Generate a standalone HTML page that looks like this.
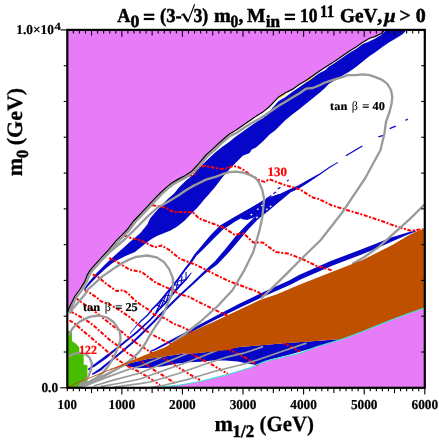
<!DOCTYPE html>
<html><head><meta charset="utf-8"><style>
html,body{margin:0;padding:0;background:#fff;}
svg{display:block;will-change:transform;}
text{text-rendering:geometricPrecision;}
</style></head><body>
<svg width="439" height="443" viewBox="0 0 439 443">
<rect x="0" y="0" width="439" height="443" fill="#fff"/>
<polygon points="67.3,29.9 385.1,29.9 385.1,29.9 381.7,33.2 374.8,36.6 369.6,38.2 362.8,42.3 356.0,47.1 349.2,51.2 342.3,56.0 335.5,60.8 328.7,64.9 319.6,70.9 312.8,75.7 306.0,80.5 299.2,84.6 292.3,89.4 285.5,92.8 278.7,96.9 269.6,106.5 262.8,112.1 256.0,116.2 249.2,121.0 242.3,125.7 235.5,130.5 228.7,134.6 219.6,142.5 212.8,148.9 206.0,155.0 199.2,163.2 192.3,170.7 185.5,175.5 178.7,178.9 171.8,183.0 167.8,186.1 161.0,192.3 154.2,199.1 147.3,206.6 133.7,221.0 126.9,230.0 122.8,234.1 116.0,240.9 109.2,249.1 102.3,256.6 95.5,264.2 90.0,270.3 87.3,275.1 84.6,281.9 79.5,290.0 75.0,296.0 70.9,304.2 68.5,309.6 67.5,312.0" fill="#E87CF8"/>
<polygon points="158.0,387.8 166.0,386.6 180.0,385.0 200.0,381.5 225.2,375.2 250.3,367.7 265.0,361.4 290.0,355.5 300.0,353.3 315.8,347.0 331.7,342.2 342.7,339.1 363.3,331.2 379.2,324.8 395.0,318.5 410.8,312.8 424.5,308.0 424.8,387.8 158.0,387.8" fill="#E87CF8"/>
<polygon points="83.6,289.8 88.7,282.3 95.0,274.7 102.3,267.3 106.4,263.3 112.0,258.0 117.8,252.8 123.5,247.7 129.2,242.6 135.0,237.8 140.6,232.8 147.3,224.5 150.0,218.5 154.2,213.5 161.0,205.8 167.8,199.0 174.6,193.0 178.7,187.8 185.5,181.0 192.3,175.5 195.0,172.8 201.8,165.3 208.7,158.4 215.5,152.3 222.3,146.8 229.2,142.0 235.5,136.7 242.3,131.9 249.2,127.1 256.0,122.3 262.8,118.2 269.6,112.8 271.8,108.5 278.7,101.0 285.5,96.9 292.3,92.1 299.2,87.3 306.0,82.5 312.8,77.8 319.6,73.0 325.0,70.2 328.7,66.7 335.5,62.6 342.3,57.8 349.2,53.0 356.0,48.9 362.8,44.1 368.0,42.1 374.8,38.7 381.7,34.6 386.4,29.9 406.9,29.9 402.2,34.6 395.3,38.7 388.5,42.8 381.7,47.5 375.0,52.6 369.6,56.0 362.8,61.5 356.0,66.9 349.2,71.7 342.3,75.8 335.5,79.9 328.7,84.0 325.0,88.0 319.6,92.8 312.8,98.3 306.0,103.7 299.2,109.2 292.3,114.6 285.5,120.0 275.0,130.5 269.6,134.6 262.8,141.4 256.0,147.6 251.7,149.6 249.6,153.0 242.8,155.7 236.0,162.5 229.2,169.4 222.3,177.6 215.5,186.4 208.7,194.6 204.6,199.1 197.8,207.3 191.0,214.1 184.2,221.0 177.3,226.4 170.5,230.5 163.7,233.3 156.8,236.0 150.0,240.1 143.0,245.5 135.0,251.9 125.5,256.0 118.7,259.4 111.9,263.5 105.0,269.2 98.2,275.6 91.4,282.6 85.2,289.6" fill="#0606C8"/>
<polygon points="337.8,162.1 329.7,166.6 319.6,173.5 314.5,176.2 307.2,180.2 298.1,185.4 288.9,189.5 279.7,193.9 274.9,195.8 266.9,199.7 258.7,203.5 252.1,207.1 242.7,212.3 233.1,217.7 220.0,225.5 210.2,235.5 201.7,245.8 194.5,254.2 189.2,262.6 183.8,269.4 177.0,279.0 171.6,285.8 164.8,294.0 158.0,302.2 151.2,309.1 147.2,314.5 140.6,320.6 134.7,327.2 129.8,333.5 130.2,333.9 135.3,327.8 141.4,321.4 148.2,315.5 152.4,310.1 159.4,303.4 166.2,295.2 173.0,287.0 178.6,280.2 185.4,270.6 191.0,263.8 196.5,255.8 204.3,248.2 213.6,238.7 223.0,229.5 235.3,221.5 244.9,216.1 254.3,210.9 260.7,207.5 268.7,203.3 276.5,199.0 281.3,197.1 290.3,192.5 299.5,188.2 308.6,182.4 315.5,177.8 320.4,174.5 330.3,167.4 338.2,162.7" fill="#0606C8"/>
<polygon points="289.6,191.4 281.3,197.0 275.1,201.3 268.2,206.7 255.3,216.6 245.3,225.9 235.4,236.4 226.0,248.2 214.7,261.6 204.2,271.0 198.8,276.2 192.1,282.8 185.4,289.1 178.5,295.3 171.6,302.1 164.8,308.9 159.3,314.3 154.3,319.8 139.8,334.3 131.7,342.0 122.6,349.7 113.5,357.4 104.3,364.7 99.8,368.6 91.9,373.7 92.7,375.1 101.2,370.6 105.7,366.3 114.7,359.0 123.8,351.3 132.9,343.4 141.2,335.7 155.7,321.2 160.7,315.7 166.2,310.3 173.0,303.5 179.9,296.7 186.6,290.5 193.5,284.2 200.4,277.8 205.8,273.0 217.3,264.4 229.6,251.4 239.4,240.0 248.7,229.1 257.7,219.4 270.4,209.3 276.9,203.7 282.7,199.0 290.4,192.6" fill="#0606C8"/>
<polygon points="191.1,272.6 185.4,279.1 178.5,285.8 171.6,294.0 164.8,302.2 158.0,309.0 153.9,314.4 149.4,319.4 136.8,331.1 131.7,335.2 122.6,342.5 113.5,349.7 107.1,354.4 101.2,359.0 94.4,364.1 87.8,368.9 88.6,370.3 95.6,365.9 102.8,361.0 108.9,356.6 114.7,351.3 123.8,343.9 132.9,336.6 138.0,332.5 150.6,320.6 155.3,315.6 159.4,310.2 166.2,303.4 173.0,295.2 179.9,287.0 186.6,280.1 191.7,273.0" fill="#0606C8"/>
<line x1="186" y1="272" x2="186" y2="279.6" stroke="#0606C8" stroke-width="1.1"/>
<line x1="182" y1="276" x2="181" y2="285" stroke="#0606C8" stroke-width="1.1"/>
<line x1="178" y1="281" x2="176" y2="290" stroke="#0606C8" stroke-width="1.1"/>
<line x1="174" y1="285" x2="171" y2="296" stroke="#0606C8" stroke-width="1.1"/>
<line x1="170" y1="290" x2="166" y2="302" stroke="#0606C8" stroke-width="1.1"/>
<line x1="166" y1="295" x2="161" y2="307" stroke="#0606C8" stroke-width="1.1"/>
<line x1="162" y1="300" x2="156" y2="312" stroke="#0606C8" stroke-width="1.1"/>
<line x1="186" y1="279.6" x2="178" y2="281" stroke="#0606C8" stroke-width="1.1"/>
<line x1="181" y1="285" x2="174" y2="285" stroke="#0606C8" stroke-width="1.1"/>
<line x1="176" y1="290" x2="170" y2="290" stroke="#0606C8" stroke-width="1.1"/>
<line x1="171" y1="296" x2="166" y2="295" stroke="#0606C8" stroke-width="1.1"/>
<line x1="166" y1="302" x2="162" y2="300" stroke="#0606C8" stroke-width="1.1"/>
<line x1="161" y1="307" x2="157" y2="305" stroke="#0606C8" stroke-width="1.1"/>
<polygon points="244.0,212.5 253.2,206.4 262.0,201.0 270.0,197.0 279.0,194.0 284.0,195.0 278.0,201.0 270.0,207.0 262.0,212.5 254.0,217.5 247.0,220.0 241.0,219.0" fill="#0606C8"/>
<rect x="250.5" y="213.9" width="1.8" height="1.4" fill="#fff" transform="rotate(-30 251.4 214.6)"/>
<rect x="256.9" y="208.5" width="1.8" height="1.4" fill="#fff" transform="rotate(-30 257.8 209.2)"/>
<rect x="266.0" y="208.5" width="1.8" height="1.4" fill="#fff" transform="rotate(-30 266.9 209.2)"/>
<rect x="269.6" y="205.7" width="1.8" height="1.4" fill="#fff" transform="rotate(-30 270.5 206.4)"/>
<rect x="256.0" y="216.7" width="1.8" height="1.4" fill="#fff" transform="rotate(-30 256.9 217.4)"/>
<rect x="261.1" y="204.8" width="1.8" height="1.4" fill="#fff" transform="rotate(-30 262 205.5)"/>
<line x1="266" y1="199" x2="271.4" y2="195.5" stroke="#0606C8" stroke-width="1.2"/>
<line x1="273.3" y1="193.7" x2="276" y2="191.9" stroke="#0606C8" stroke-width="1.2"/>
<line x1="277.8" y1="189.1" x2="280.5" y2="187.3" stroke="#0606C8" stroke-width="1.2"/>
<line x1="287" y1="181" x2="288.7" y2="180" stroke="#0606C8" stroke-width="1.2"/>
<line x1="345.9" y1="155.7" x2="362.3" y2="146" stroke="#0606C8" stroke-width="1.3"/>
<line x1="378.4" y1="136.9" x2="383.3" y2="135.4" stroke="#0606C8" stroke-width="1.3"/>
<line x1="389.6" y1="128.7" x2="395.8" y2="126.2" stroke="#0606C8" stroke-width="1.3"/>
<line x1="405.5" y1="120.3" x2="407.7" y2="119.2" stroke="#0606C8" stroke-width="1.3"/>
<polygon points="150.3,352.1 155.9,349.9 172.5,341.6 183.8,336.2 202.1,326.5 215.7,319.6 240.8,307.2 265.9,295.6 290.9,284.6 301.0,279.3 332.7,265.5 360.9,254.7 376.9,248.3 392.6,241.2 408.1,234.4 415.9,231.5 415.7,230.5 407.5,232.6 391.2,237.4 375.1,243.9 359.1,250.3 330.7,260.9 299.0,275.1 289.1,280.6 264.1,291.8 239.2,303.8 214.3,316.8 200.7,323.9 182.6,333.8 171.5,339.6 155.1,348.5 149.7,350.9" fill="#0606C8"/>
<polygon points="124.0,365.5 128.2,363.8 146.4,359.2 164.6,356.5 182.9,353.7 200.0,352.9 240.0,347.1 290.0,342.8 319.0,340.7 342.7,339.1 331.7,342.2 315.8,347.0 300.0,351.7 290.0,354.5 270.0,359.5 256.0,365.0 250.3,364.0 237.7,361.5 225.2,360.5 212.7,360.5 200.0,361.8 189.3,362.3 175.6,363.7 162.0,366.4 148.3,367.8 137.3,368.3" fill="#0606C8"/>
<polygon points="67.3,331.0 71.9,331.0 71.9,341.0 75.6,343.5 79.3,347.2 79.3,353.5 83.7,354.2 83.7,364.5 87.4,365.3 87.4,382.5 82.0,387.8 67.3,387.8" fill="#48BC00"/>
<polyline points="188.0,176.0 192.0,175.0 194.4,174.2 198.0,167.0 205.0,166.0 213.0,167.5 222.0,169.0 228.0,168.0 233.0,166.0 238.0,167.0 243.0,169.5 252.0,176.0 259.7,180.3 264.5,181.9 269.3,179.3 285.2,185.1 300.0,189.5 312.7,197.5 319.0,199.1 331.7,205.4 347.5,210.2 363.3,214.9 372.8,218.1 382.3,221.2 395.0,226.0 410.8,230.7 423.5,229.2" stroke="#FF0000" stroke-width="2" fill="none" stroke-dasharray="4 1.6 2 1.6" stroke-linejoin="round"/>
<polyline points="152.1,205.3 156.9,206.0 161.0,206.6 166.4,208.0 170.5,210.7 174.6,212.1 180.0,212.1 192.8,212.2 199.1,218.6 211.9,223.3 224.6,228.1 234.2,234.5 243.8,233.5 253.3,242.5 262.9,242.5 275.7,252.0 288.4,253.6 304.4,260.0 315.8,265.6 331.7,270.3" stroke="#FF0000" stroke-width="2" fill="none" stroke-dasharray="4 1.6 2 1.6" stroke-linejoin="round"/>
<polyline points="124.1,235.3 131.0,238.0 139.2,240.0 147.4,243.6 154.6,247.3 161.9,245.5 169.2,250.0 180.0,258.8 195.9,264.8 211.9,272.8 227.8,280.7 240.0,285.2 250.0,289.0 257.5,291.5 263.8,296.5" stroke="#FF0000" stroke-width="2" fill="none" stroke-dasharray="4 1.6 2 1.6" stroke-linejoin="round"/>
<polyline points="109.2,258.0 116.0,261.4 122.8,265.5 129.6,269.6 136.4,271.0 141.9,271.9 147.4,276.4 154.6,281.9 163.8,286.4 172.9,290.1 180.0,294.6 187.6,296.2 200.0,302.6 215.0,310.0 228.0,316.0 250.0,327.0 270.0,337.0 287.5,345.0 300.0,351.5" stroke="#FF0000" stroke-width="2" fill="none" stroke-dasharray="4 1.6 2 1.6" stroke-linejoin="round"/>
<polyline points="92.8,274.4 98.2,277.1 107.3,284.6 116.4,291.0 123.7,290.1 129.1,294.6 134.6,300.1 141.9,305.6 149.2,310.1 154.6,314.7 164.6,318.2 173.8,323.7 182.9,327.3 190.0,331.0 210.0,341.0 230.0,350.0 245.0,357.5 258.0,365.5" stroke="#FF0000" stroke-width="2" fill="none" stroke-dasharray="4 1.6 2 1.6" stroke-linejoin="round"/>
<polyline points="84.6,289.8 91.4,293.9 98.3,298.7 101.0,301.4 110.0,304.5 119.1,310.0 128.2,316.0 137.3,323.7 146.4,331.0 155.5,336.4 164.6,341.0 172.0,344.6 185.0,351.0 200.0,358.5 212.7,365.0 227.7,373.8" stroke="#FF0000" stroke-width="2" fill="none" stroke-dasharray="4 1.6 2 1.6" stroke-linejoin="round"/>
<polyline points="75.7,297.7 82.5,303.2 89.3,307.3 95.5,312.0 101.6,316.9 108.4,322.3 115.3,327.8 122.0,331.9 127.8,336.8 137.4,343.7 146.4,349.5 151.9,353.0 164.6,358.8 173.8,364.7 182.9,370.1 190.0,374.7 200.0,380.0" stroke="#FF0000" stroke-width="2" fill="none" stroke-dasharray="4 1.6 2 1.6" stroke-linejoin="round"/>
<polyline points="70.2,311.4 77.0,314.8 83.9,318.9 89.3,322.3 96.2,327.8 103.0,333.9 109.8,340.1 116.6,344.9 122.0,348.3 127.8,353.2 137.4,358.7 146.4,364.5 155.5,371.0 164.6,376.5 176.0,384.0" stroke="#FF0000" stroke-width="2" fill="none" stroke-dasharray="4 1.6 2 1.6" stroke-linejoin="round"/>
<polyline points="69.5,320.3 75.7,324.4 82.5,330.5 89.3,336.0 96.2,342.1 103.2,347.8 111.4,355.3 118.3,360.0 126.4,365.5 134.6,369.6 140.0,372.3 150.0,378.5 160.0,385.0" stroke="#FF0000" stroke-width="2" fill="none" stroke-dasharray="4 1.6 2 1.6" stroke-linejoin="round"/>
<polyline points="68.1,356.9 73.3,353.9 79.3,352.9 85.2,353.9 89.6,357.6 91.9,363.5 91.1,369.4 88.9,375.4 85.2,380.6 79.3,385.0" stroke="#9A9A9A" stroke-width="2.3" fill="none" stroke-linejoin="round"/>
<polyline points="68.0,336.0 68.8,334.6 72.9,327.8 79.8,321.6 89.3,316.9 98.9,315.5 107.1,317.5 113.9,322.3 119.4,330.5 120.5,336.8 120.3,341.0 118.9,345.0 115.5,353.2 112.8,358.7 108.7,365.5 103.2,372.3 96.4,377.8 88.2,382.6 78.0,386.8" stroke="#9A9A9A" stroke-width="2.3" fill="none" stroke-linejoin="round"/>
<polyline points="69.5,313.5 72.5,309.0 77.8,302.8 84.5,295.0 87.3,290.0 95.5,282.6 102.3,276.4 109.2,271.7 116.0,266.9 122.8,262.8 129.6,259.4 136.4,256.8 147.4,255.5 156.5,257.3 163.8,261.9 169.2,269.1 172.9,278.3 172.9,287.4 171.0,296.5 168.3,302.0 164.6,310.9 160.0,320.0 155.5,326.4 150.0,335.0 145.0,344.0 139.6,351.4 132.3,358.7 123.2,365.1 114.1,370.5 107.7,374.2 96.0,380.5 84.0,386.0" stroke="#9A9A9A" stroke-width="2.3" fill="none" stroke-linejoin="round"/>
<polyline points="104.0,258.0 110.8,251.0 117.5,245.5 124.0,240.0 133.7,230.5 147.3,216.9 156.9,208.0 167.8,201.9 178.7,195.3 185.5,190.5 192.3,186.4 199.2,183.0 206.0,179.6 215.5,176.9 222.3,174.2 229.2,172.1 236.0,171.7 242.8,172.5 249.6,174.8 255.0,177.6 258.7,181.8 262.3,190.0 264.1,199.1 263.2,208.3 262.3,217.4 259.6,230.0 253.3,252.0 243.8,271.2 232.6,290.0 217.7,306.0 200.0,322.0 182.9,335.5 172.0,343.0" stroke="#9A9A9A" stroke-width="2.3" fill="none" stroke-linejoin="round"/>
<polyline points="69.3,312.7 70.2,310.4 72.6,305.0 76.6,297.0 81.1,291.1 86.3,282.8 89.0,275.9 91.5,271.4 96.9,265.5 103.7,257.9 110.6,250.3 117.4,242.2 124.1,235.4 128.4,231.2 135.1,222.2 148.7,207.9 155.6,200.4 162.3,193.7 169.0,187.5 172.8,184.6 179.6,180.6 186.5,177.1 193.6,172.1 200.6,164.4 207.4,156.3 214.1,150.3 220.9,143.9 229.8,136.1 236.5,133.0 243.0,128.5 250.0,124.0 258.0,119.5 265.0,115.3 271.8,110.5 278.7,105.8 285.5,101.7 292.3,97.6 299.2,93.5 306.0,88.7 312.8,88.0 319.6,85.3 325.0,82.5 328.7,81.3 335.5,79.2 342.3,77.2 347.8,75.1 356.0,75.1 362.8,74.4 369.6,75.1 374.8,76.9 381.7,79.6 387.1,83.7 391.0,90.0 392.3,97.0 391.5,104.0 389.5,112.0 386.0,122.0 384.3,134.0 380.5,150.0 365.0,178.5 342.8,211.7 320.5,240.2 301.0,259.2 286.0,274.4 273.0,287.1 261.0,298.5" stroke="#9A9A9A" stroke-width="2.3" fill="none" stroke-linejoin="round"/>
<polyline points="424.5,204.5 410.8,218.1 395.0,232.3 379.2,246.6 363.3,257.7 352.2,264.0" stroke="#9A9A9A" stroke-width="2.3" fill="none" stroke-linejoin="round"/>
<polyline points="84.0,384.0 100.0,377.0 115.0,370.0 128.0,363.5" stroke="#9A9A9A" stroke-width="1.7" fill="none" stroke-linejoin="round"/>
<polyline points="86.8,385.3 107.3,377.1 127.8,369.6 140.0,366.3 155.0,360.0 162.0,357.0" stroke="#9A9A9A" stroke-width="1.7" fill="none" stroke-linejoin="round"/>
<polyline points="93.7,386.0 114.2,379.9 134.6,374.5 140.0,373.0 165.0,362.6 190.0,352.5 193.0,351.3" stroke="#9A9A9A" stroke-width="1.7" fill="none" stroke-linejoin="round"/>
<polyline points="100.5,386.7 121.0,383.0 140.0,379.0 165.0,370.0 190.0,361.3 215.0,351.3 218.0,350.0" stroke="#9A9A9A" stroke-width="1.7" fill="none" stroke-linejoin="round"/>
<polyline points="114.2,387.0 140.0,383.6 150.0,382.0 177.6,373.8 202.6,365.0 227.7,356.8 243.7,353.2 257.3,348.6 263.0,346.6" stroke="#9A9A9A" stroke-width="1.7" fill="none" stroke-linejoin="round"/>
<polyline points="150.0,387.5 165.0,385.0 190.0,378.8 215.0,371.3 240.2,365.0 257.3,360.0 284.6,350.5 306.5,343.1" stroke="#9A9A9A" stroke-width="1.7" fill="none" stroke-linejoin="round"/>
<polygon points="110.0,369.2 128.2,361.9 146.4,354.6 164.6,347.4 183.2,336.4 192.3,331.8 201.4,327.3 212.7,322.2 237.7,310.6 260.0,299.9 277.6,294.0 300.0,284.6 331.7,271.9 352.2,264.0 363.3,259.7 368.0,257.3 376.0,253.3 383.9,249.3 391.9,245.3 399.9,240.5 407.8,235.7 415.8,231.7 425.0,228.6 424.5,308.0 410.8,312.8 395.0,318.5 379.2,324.8 363.3,331.2 342.7,339.1 319.0,340.7 300.0,342.2 290.0,342.8 265.0,345.1 240.0,347.1 225.2,350.2 200.0,352.9 182.9,353.7 164.6,356.5 146.4,359.2 128.2,363.8 110.0,370.2" fill="#BE5000"/>
<line x1="67.3" y1="387" x2="112" y2="368.8" stroke="#BE5000" stroke-width="0.9"/>
<polyline points="279.5,97.9 286.1,93.9" stroke="#F4F000" stroke-width="1.1" fill="none"/>
<polyline points="306.7,81.6 313.5,76.8" stroke="#F4F000" stroke-width="1.1" fill="none"/>
<polyline points="67.5,312.0 68.5,309.6 70.9,304.2 75.0,296.0 79.5,290.0 84.6,281.9 87.3,275.1 90.0,270.3 95.5,264.2 102.3,256.6 109.2,249.1 116.0,240.9 122.8,234.1 126.9,230.0 133.7,221.0 147.3,206.6 154.2,199.1 161.0,192.3 167.8,186.1 171.8,183.0 178.7,178.9 185.5,175.5 192.3,170.7 199.2,163.2 206.0,155.0 212.8,148.9 219.6,142.5 228.7,134.6 235.5,130.5 242.3,125.7 249.2,121.0 256.0,116.2 262.8,112.1 269.6,106.5 278.7,96.9 285.5,92.8 292.3,89.4 299.2,84.6 306.0,80.5 312.8,75.7 319.6,70.9 328.7,64.9 335.5,60.8 342.3,56.0 349.2,51.2 356.0,47.1 362.8,42.3 369.6,38.2 374.8,36.6 381.7,33.2 385.1,29.9" stroke="#000" stroke-width="1.2" fill="none"/>
<polyline points="158.0,387.8 166.0,386.6 180.0,385.0 200.0,381.5 225.2,375.2 250.3,367.7 265.0,361.4 290.0,355.5 300.0,353.3 315.8,347.0 331.7,342.2 342.7,339.1 363.3,331.2 379.2,324.8 395.0,318.5 410.8,312.8 424.5,308.0" stroke="#40E0D0" stroke-width="1.2" fill="none"/>
<line x1="67.30" y1="29.9" x2="67.30" y2="33.599999999999994" stroke="#000" stroke-width="1.1"/>
<line x1="67.30" y1="387.8" x2="67.30" y2="391.2" stroke="#000" stroke-width="1.1"/>
<line x1="73.36" y1="29.9" x2="73.36" y2="33.599999999999994" stroke="#000" stroke-width="1.1"/>
<line x1="73.36" y1="387.8" x2="73.36" y2="391.2" stroke="#000" stroke-width="1.1"/>
<line x1="79.42" y1="29.9" x2="79.42" y2="33.599999999999994" stroke="#000" stroke-width="1.1"/>
<line x1="79.42" y1="387.8" x2="79.42" y2="391.2" stroke="#000" stroke-width="1.1"/>
<line x1="85.48" y1="29.9" x2="85.48" y2="33.599999999999994" stroke="#000" stroke-width="1.1"/>
<line x1="85.48" y1="387.8" x2="85.48" y2="391.2" stroke="#000" stroke-width="1.1"/>
<line x1="91.54" y1="29.9" x2="91.54" y2="35.49999999999999" stroke="#000" stroke-width="1.1"/>
<line x1="91.54" y1="387.8" x2="91.54" y2="393.1" stroke="#000" stroke-width="1.1"/>
<line x1="97.60" y1="29.9" x2="97.60" y2="33.599999999999994" stroke="#000" stroke-width="1.1"/>
<line x1="97.60" y1="387.8" x2="97.60" y2="391.2" stroke="#000" stroke-width="1.1"/>
<line x1="103.66" y1="29.9" x2="103.66" y2="33.599999999999994" stroke="#000" stroke-width="1.1"/>
<line x1="103.66" y1="387.8" x2="103.66" y2="391.2" stroke="#000" stroke-width="1.1"/>
<line x1="109.72" y1="29.9" x2="109.72" y2="33.599999999999994" stroke="#000" stroke-width="1.1"/>
<line x1="109.72" y1="387.8" x2="109.72" y2="391.2" stroke="#000" stroke-width="1.1"/>
<line x1="115.77" y1="29.9" x2="115.77" y2="33.599999999999994" stroke="#000" stroke-width="1.1"/>
<line x1="115.77" y1="387.8" x2="115.77" y2="391.2" stroke="#000" stroke-width="1.1"/>
<line x1="121.83" y1="29.9" x2="121.83" y2="36.8" stroke="#000" stroke-width="1.1"/>
<line x1="121.83" y1="387.8" x2="121.83" y2="394.40000000000003" stroke="#000" stroke-width="1.1"/>
<line x1="127.89" y1="29.9" x2="127.89" y2="33.599999999999994" stroke="#000" stroke-width="1.1"/>
<line x1="127.89" y1="387.8" x2="127.89" y2="391.2" stroke="#000" stroke-width="1.1"/>
<line x1="133.95" y1="29.9" x2="133.95" y2="33.599999999999994" stroke="#000" stroke-width="1.1"/>
<line x1="133.95" y1="387.8" x2="133.95" y2="391.2" stroke="#000" stroke-width="1.1"/>
<line x1="140.01" y1="29.9" x2="140.01" y2="33.599999999999994" stroke="#000" stroke-width="1.1"/>
<line x1="140.01" y1="387.8" x2="140.01" y2="391.2" stroke="#000" stroke-width="1.1"/>
<line x1="146.07" y1="29.9" x2="146.07" y2="33.599999999999994" stroke="#000" stroke-width="1.1"/>
<line x1="146.07" y1="387.8" x2="146.07" y2="391.2" stroke="#000" stroke-width="1.1"/>
<line x1="152.13" y1="29.9" x2="152.13" y2="35.49999999999999" stroke="#000" stroke-width="1.1"/>
<line x1="152.13" y1="387.8" x2="152.13" y2="393.1" stroke="#000" stroke-width="1.1"/>
<line x1="158.19" y1="29.9" x2="158.19" y2="33.599999999999994" stroke="#000" stroke-width="1.1"/>
<line x1="158.19" y1="387.8" x2="158.19" y2="391.2" stroke="#000" stroke-width="1.1"/>
<line x1="164.25" y1="29.9" x2="164.25" y2="33.599999999999994" stroke="#000" stroke-width="1.1"/>
<line x1="164.25" y1="387.8" x2="164.25" y2="391.2" stroke="#000" stroke-width="1.1"/>
<line x1="170.31" y1="29.9" x2="170.31" y2="33.599999999999994" stroke="#000" stroke-width="1.1"/>
<line x1="170.31" y1="387.8" x2="170.31" y2="391.2" stroke="#000" stroke-width="1.1"/>
<line x1="176.37" y1="29.9" x2="176.37" y2="33.599999999999994" stroke="#000" stroke-width="1.1"/>
<line x1="176.37" y1="387.8" x2="176.37" y2="391.2" stroke="#000" stroke-width="1.1"/>
<line x1="182.43" y1="29.9" x2="182.43" y2="36.8" stroke="#000" stroke-width="1.1"/>
<line x1="182.43" y1="387.8" x2="182.43" y2="394.40000000000003" stroke="#000" stroke-width="1.1"/>
<line x1="188.49" y1="29.9" x2="188.49" y2="33.599999999999994" stroke="#000" stroke-width="1.1"/>
<line x1="188.49" y1="387.8" x2="188.49" y2="391.2" stroke="#000" stroke-width="1.1"/>
<line x1="194.55" y1="29.9" x2="194.55" y2="33.599999999999994" stroke="#000" stroke-width="1.1"/>
<line x1="194.55" y1="387.8" x2="194.55" y2="391.2" stroke="#000" stroke-width="1.1"/>
<line x1="200.61" y1="29.9" x2="200.61" y2="33.599999999999994" stroke="#000" stroke-width="1.1"/>
<line x1="200.61" y1="387.8" x2="200.61" y2="391.2" stroke="#000" stroke-width="1.1"/>
<line x1="206.66" y1="29.9" x2="206.66" y2="33.599999999999994" stroke="#000" stroke-width="1.1"/>
<line x1="206.66" y1="387.8" x2="206.66" y2="391.2" stroke="#000" stroke-width="1.1"/>
<line x1="212.72" y1="29.9" x2="212.72" y2="35.49999999999999" stroke="#000" stroke-width="1.1"/>
<line x1="212.72" y1="387.8" x2="212.72" y2="393.1" stroke="#000" stroke-width="1.1"/>
<line x1="218.78" y1="29.9" x2="218.78" y2="33.599999999999994" stroke="#000" stroke-width="1.1"/>
<line x1="218.78" y1="387.8" x2="218.78" y2="391.2" stroke="#000" stroke-width="1.1"/>
<line x1="224.84" y1="29.9" x2="224.84" y2="33.599999999999994" stroke="#000" stroke-width="1.1"/>
<line x1="224.84" y1="387.8" x2="224.84" y2="391.2" stroke="#000" stroke-width="1.1"/>
<line x1="230.90" y1="29.9" x2="230.90" y2="33.599999999999994" stroke="#000" stroke-width="1.1"/>
<line x1="230.90" y1="387.8" x2="230.90" y2="391.2" stroke="#000" stroke-width="1.1"/>
<line x1="236.96" y1="29.9" x2="236.96" y2="33.599999999999994" stroke="#000" stroke-width="1.1"/>
<line x1="236.96" y1="387.8" x2="236.96" y2="391.2" stroke="#000" stroke-width="1.1"/>
<line x1="243.02" y1="29.9" x2="243.02" y2="36.8" stroke="#000" stroke-width="1.1"/>
<line x1="243.02" y1="387.8" x2="243.02" y2="394.40000000000003" stroke="#000" stroke-width="1.1"/>
<line x1="249.08" y1="29.9" x2="249.08" y2="33.599999999999994" stroke="#000" stroke-width="1.1"/>
<line x1="249.08" y1="387.8" x2="249.08" y2="391.2" stroke="#000" stroke-width="1.1"/>
<line x1="255.14" y1="29.9" x2="255.14" y2="33.599999999999994" stroke="#000" stroke-width="1.1"/>
<line x1="255.14" y1="387.8" x2="255.14" y2="391.2" stroke="#000" stroke-width="1.1"/>
<line x1="261.20" y1="29.9" x2="261.20" y2="33.599999999999994" stroke="#000" stroke-width="1.1"/>
<line x1="261.20" y1="387.8" x2="261.20" y2="391.2" stroke="#000" stroke-width="1.1"/>
<line x1="267.26" y1="29.9" x2="267.26" y2="33.599999999999994" stroke="#000" stroke-width="1.1"/>
<line x1="267.26" y1="387.8" x2="267.26" y2="391.2" stroke="#000" stroke-width="1.1"/>
<line x1="273.32" y1="29.9" x2="273.32" y2="35.49999999999999" stroke="#000" stroke-width="1.1"/>
<line x1="273.32" y1="387.8" x2="273.32" y2="393.1" stroke="#000" stroke-width="1.1"/>
<line x1="279.38" y1="29.9" x2="279.38" y2="33.599999999999994" stroke="#000" stroke-width="1.1"/>
<line x1="279.38" y1="387.8" x2="279.38" y2="391.2" stroke="#000" stroke-width="1.1"/>
<line x1="285.44" y1="29.9" x2="285.44" y2="33.599999999999994" stroke="#000" stroke-width="1.1"/>
<line x1="285.44" y1="387.8" x2="285.44" y2="391.2" stroke="#000" stroke-width="1.1"/>
<line x1="291.49" y1="29.9" x2="291.49" y2="33.599999999999994" stroke="#000" stroke-width="1.1"/>
<line x1="291.49" y1="387.8" x2="291.49" y2="391.2" stroke="#000" stroke-width="1.1"/>
<line x1="297.55" y1="29.9" x2="297.55" y2="33.599999999999994" stroke="#000" stroke-width="1.1"/>
<line x1="297.55" y1="387.8" x2="297.55" y2="391.2" stroke="#000" stroke-width="1.1"/>
<line x1="303.61" y1="29.9" x2="303.61" y2="36.8" stroke="#000" stroke-width="1.1"/>
<line x1="303.61" y1="387.8" x2="303.61" y2="394.40000000000003" stroke="#000" stroke-width="1.1"/>
<line x1="309.67" y1="29.9" x2="309.67" y2="33.599999999999994" stroke="#000" stroke-width="1.1"/>
<line x1="309.67" y1="387.8" x2="309.67" y2="391.2" stroke="#000" stroke-width="1.1"/>
<line x1="315.73" y1="29.9" x2="315.73" y2="33.599999999999994" stroke="#000" stroke-width="1.1"/>
<line x1="315.73" y1="387.8" x2="315.73" y2="391.2" stroke="#000" stroke-width="1.1"/>
<line x1="321.79" y1="29.9" x2="321.79" y2="33.599999999999994" stroke="#000" stroke-width="1.1"/>
<line x1="321.79" y1="387.8" x2="321.79" y2="391.2" stroke="#000" stroke-width="1.1"/>
<line x1="327.85" y1="29.9" x2="327.85" y2="33.599999999999994" stroke="#000" stroke-width="1.1"/>
<line x1="327.85" y1="387.8" x2="327.85" y2="391.2" stroke="#000" stroke-width="1.1"/>
<line x1="333.91" y1="29.9" x2="333.91" y2="35.49999999999999" stroke="#000" stroke-width="1.1"/>
<line x1="333.91" y1="387.8" x2="333.91" y2="393.1" stroke="#000" stroke-width="1.1"/>
<line x1="339.97" y1="29.9" x2="339.97" y2="33.599999999999994" stroke="#000" stroke-width="1.1"/>
<line x1="339.97" y1="387.8" x2="339.97" y2="391.2" stroke="#000" stroke-width="1.1"/>
<line x1="346.03" y1="29.9" x2="346.03" y2="33.599999999999994" stroke="#000" stroke-width="1.1"/>
<line x1="346.03" y1="387.8" x2="346.03" y2="391.2" stroke="#000" stroke-width="1.1"/>
<line x1="352.09" y1="29.9" x2="352.09" y2="33.599999999999994" stroke="#000" stroke-width="1.1"/>
<line x1="352.09" y1="387.8" x2="352.09" y2="391.2" stroke="#000" stroke-width="1.1"/>
<line x1="358.15" y1="29.9" x2="358.15" y2="33.599999999999994" stroke="#000" stroke-width="1.1"/>
<line x1="358.15" y1="387.8" x2="358.15" y2="391.2" stroke="#000" stroke-width="1.1"/>
<line x1="364.21" y1="29.9" x2="364.21" y2="36.8" stroke="#000" stroke-width="1.1"/>
<line x1="364.21" y1="387.8" x2="364.21" y2="394.40000000000003" stroke="#000" stroke-width="1.1"/>
<line x1="370.27" y1="29.9" x2="370.27" y2="33.599999999999994" stroke="#000" stroke-width="1.1"/>
<line x1="370.27" y1="387.8" x2="370.27" y2="391.2" stroke="#000" stroke-width="1.1"/>
<line x1="376.33" y1="29.9" x2="376.33" y2="33.599999999999994" stroke="#000" stroke-width="1.1"/>
<line x1="376.33" y1="387.8" x2="376.33" y2="391.2" stroke="#000" stroke-width="1.1"/>
<line x1="382.38" y1="29.9" x2="382.38" y2="33.599999999999994" stroke="#000" stroke-width="1.1"/>
<line x1="382.38" y1="387.8" x2="382.38" y2="391.2" stroke="#000" stroke-width="1.1"/>
<line x1="388.44" y1="29.9" x2="388.44" y2="33.599999999999994" stroke="#000" stroke-width="1.1"/>
<line x1="388.44" y1="387.8" x2="388.44" y2="391.2" stroke="#000" stroke-width="1.1"/>
<line x1="394.50" y1="29.9" x2="394.50" y2="35.49999999999999" stroke="#000" stroke-width="1.1"/>
<line x1="394.50" y1="387.8" x2="394.50" y2="393.1" stroke="#000" stroke-width="1.1"/>
<line x1="400.56" y1="29.9" x2="400.56" y2="33.599999999999994" stroke="#000" stroke-width="1.1"/>
<line x1="400.56" y1="387.8" x2="400.56" y2="391.2" stroke="#000" stroke-width="1.1"/>
<line x1="406.62" y1="29.9" x2="406.62" y2="33.599999999999994" stroke="#000" stroke-width="1.1"/>
<line x1="406.62" y1="387.8" x2="406.62" y2="391.2" stroke="#000" stroke-width="1.1"/>
<line x1="412.68" y1="29.9" x2="412.68" y2="33.599999999999994" stroke="#000" stroke-width="1.1"/>
<line x1="412.68" y1="387.8" x2="412.68" y2="391.2" stroke="#000" stroke-width="1.1"/>
<line x1="418.74" y1="29.9" x2="418.74" y2="33.599999999999994" stroke="#000" stroke-width="1.1"/>
<line x1="418.74" y1="387.8" x2="418.74" y2="391.2" stroke="#000" stroke-width="1.1"/>
<line x1="424.80" y1="29.9" x2="424.80" y2="36.8" stroke="#000" stroke-width="1.1"/>
<line x1="424.80" y1="387.8" x2="424.80" y2="394.40000000000003" stroke="#000" stroke-width="1.1"/>
<line x1="60.3" y1="387.80" x2="67.3" y2="387.80" stroke="#000" stroke-width="1.1"/>
<line x1="63.699999999999996" y1="352.01" x2="67.3" y2="352.01" stroke="#000" stroke-width="1.1"/>
<line x1="421.2" y1="352.01" x2="424.8" y2="352.01" stroke="#000" stroke-width="1.1"/>
<line x1="63.699999999999996" y1="316.22" x2="67.3" y2="316.22" stroke="#000" stroke-width="1.1"/>
<line x1="421.2" y1="316.22" x2="424.8" y2="316.22" stroke="#000" stroke-width="1.1"/>
<line x1="63.699999999999996" y1="280.43" x2="67.3" y2="280.43" stroke="#000" stroke-width="1.1"/>
<line x1="421.2" y1="280.43" x2="424.8" y2="280.43" stroke="#000" stroke-width="1.1"/>
<line x1="63.699999999999996" y1="244.64" x2="67.3" y2="244.64" stroke="#000" stroke-width="1.1"/>
<line x1="421.2" y1="244.64" x2="424.8" y2="244.64" stroke="#000" stroke-width="1.1"/>
<line x1="63.699999999999996" y1="208.85" x2="67.3" y2="208.85" stroke="#000" stroke-width="1.1"/>
<line x1="421.2" y1="208.85" x2="424.8" y2="208.85" stroke="#000" stroke-width="1.1"/>
<line x1="63.699999999999996" y1="173.06" x2="67.3" y2="173.06" stroke="#000" stroke-width="1.1"/>
<line x1="421.2" y1="173.06" x2="424.8" y2="173.06" stroke="#000" stroke-width="1.1"/>
<line x1="63.699999999999996" y1="137.27" x2="67.3" y2="137.27" stroke="#000" stroke-width="1.1"/>
<line x1="421.2" y1="137.27" x2="424.8" y2="137.27" stroke="#000" stroke-width="1.1"/>
<line x1="63.699999999999996" y1="101.48" x2="67.3" y2="101.48" stroke="#000" stroke-width="1.1"/>
<line x1="421.2" y1="101.48" x2="424.8" y2="101.48" stroke="#000" stroke-width="1.1"/>
<line x1="63.699999999999996" y1="65.69" x2="67.3" y2="65.69" stroke="#000" stroke-width="1.1"/>
<line x1="421.2" y1="65.69" x2="424.8" y2="65.69" stroke="#000" stroke-width="1.1"/>
<line x1="60.3" y1="29.90" x2="67.3" y2="29.90" stroke="#000" stroke-width="1.1"/>
<rect x="67.3" y="29.9" width="357.5" height="357.90000000000003" fill="none" stroke="#000" stroke-width="2.2"/>
<text x="57.6" y="409.2" font-family="Liberation Serif, serif" font-weight="bold" font-size="13.6" textLength="19.3" lengthAdjust="spacingAndGlyphs" stroke="#000" stroke-width="0.2" stroke-linejoin="round" >100</text>
<text x="108.5" y="409.2" font-family="Liberation Serif, serif" font-weight="bold" font-size="13.6" textLength="26.6" lengthAdjust="spacingAndGlyphs" stroke="#000" stroke-width="0.2" stroke-linejoin="round" >1000</text>
<text x="169.1" y="409.2" font-family="Liberation Serif, serif" font-weight="bold" font-size="13.6" textLength="26.6" lengthAdjust="spacingAndGlyphs" stroke="#000" stroke-width="0.2" stroke-linejoin="round" >2000</text>
<text x="229.7" y="409.2" font-family="Liberation Serif, serif" font-weight="bold" font-size="13.6" textLength="26.6" lengthAdjust="spacingAndGlyphs" stroke="#000" stroke-width="0.2" stroke-linejoin="round" >3000</text>
<text x="290.3" y="409.2" font-family="Liberation Serif, serif" font-weight="bold" font-size="13.6" textLength="26.6" lengthAdjust="spacingAndGlyphs" stroke="#000" stroke-width="0.2" stroke-linejoin="round" >4000</text>
<text x="350.9" y="409.2" font-family="Liberation Serif, serif" font-weight="bold" font-size="13.6" textLength="26.6" lengthAdjust="spacingAndGlyphs" stroke="#000" stroke-width="0.2" stroke-linejoin="round" >5000</text>
<text x="411.5" y="409.2" font-family="Liberation Serif, serif" font-weight="bold" font-size="13.6" textLength="26.6" lengthAdjust="spacingAndGlyphs" stroke="#000" stroke-width="0.2" stroke-linejoin="round" >6000</text>
<text x="41.4" y="391.9" font-family="Liberation Serif, serif" font-weight="bold" font-size="13.6" textLength="16.7" lengthAdjust="spacingAndGlyphs" stroke="#000" stroke-width="0.2" stroke-linejoin="round" >0.0</text>
<text x="16.3" y="34.3" font-family="Liberation Serif, serif" font-weight="bold" font-size="13.6" textLength="37.6" lengthAdjust="spacingAndGlyphs" stroke="#000" stroke-width="0.2" stroke-linejoin="round" >1.0×10</text>
<text x="54.6" y="29.6" font-family="Liberation Serif, serif" font-weight="bold" font-size="11" textLength="6.3" lengthAdjust="spacingAndGlyphs" stroke="#000" stroke-width="0.2" stroke-linejoin="round" >4</text>
<text x="117.2" y="21.8" font-family="Liberation Serif, serif" font-weight="bold" font-size="19.8" textLength="13.2" lengthAdjust="spacingAndGlyphs" stroke="#000" stroke-width="0.5" stroke-linejoin="round" >A</text>
<text x="130.4" y="27.1" font-family="Liberation Serif, serif" font-weight="bold" font-size="17.3" textLength="8.9" lengthAdjust="spacingAndGlyphs" stroke="#000" stroke-width="0.5" stroke-linejoin="round" >0</text>
<rect x="143.8" y="13.7" width="10.5" height="2.1" fill="#000"/>
<rect x="143.8" y="17.9" width="10.5" height="2.2" fill="#000"/>
<text x="160.0" y="21.8" font-family="Liberation Serif, serif" font-weight="bold" font-size="19.8" textLength="21.6" lengthAdjust="spacingAndGlyphs" stroke="#000" stroke-width="0.5" stroke-linejoin="round" >(3-</text>
<path d="M181.3,15.5 L183.3,14.0" stroke="#000" stroke-width="1.1" fill="none"/>
<path d="M183.2,13.6 L187.9,21.6" stroke="#000" stroke-width="2.3" fill="none"/>
<path d="M187.7,22.2 L194.7,4.2" stroke="#000" stroke-width="1.1" fill="none"/>
<text x="193.4" y="21.8" font-family="Liberation Serif, serif" font-weight="bold" font-size="19.8" textLength="14.8" lengthAdjust="spacingAndGlyphs" stroke="#000" stroke-width="0.5" stroke-linejoin="round" >3)</text>
<text x="214.0" y="21.8" font-family="Liberation Serif, serif" font-weight="bold" font-size="19.8" textLength="16.8" lengthAdjust="spacingAndGlyphs" stroke="#000" stroke-width="0.5" stroke-linejoin="round" >m</text>
<text x="230.4" y="27.1" font-family="Liberation Serif, serif" font-weight="bold" font-size="17.3" textLength="7.8" lengthAdjust="spacingAndGlyphs" stroke="#000" stroke-width="0.5" stroke-linejoin="round" >0</text>
<text x="238.6" y="21.8" font-family="Liberation Serif, serif" font-weight="bold" font-size="19.8" stroke="#000" stroke-width="0.5" stroke-linejoin="round" >,</text>
<text x="247.0" y="21.8" font-family="Liberation Serif, serif" font-weight="bold" font-size="19.8" textLength="18.4" lengthAdjust="spacingAndGlyphs" stroke="#000" stroke-width="0.5" stroke-linejoin="round" >M</text>
<text x="265.7" y="27.1" font-family="Liberation Serif, serif" font-weight="bold" font-size="17.3" textLength="14.4" lengthAdjust="spacingAndGlyphs" stroke="#000" stroke-width="0.5" stroke-linejoin="round" >in</text>
<rect x="284.8" y="13.7" width="10.2" height="2.1" fill="#000"/>
<rect x="284.8" y="17.9" width="10.2" height="2.2" fill="#000"/>
<text x="300" y="21.8" font-family="Liberation Serif, serif" font-weight="bold" font-size="19.8" textLength="17.4" lengthAdjust="spacingAndGlyphs" stroke="#000" stroke-width="0.5" stroke-linejoin="round" >10</text>
<text x="320.0" y="16.7" font-family="Liberation Serif, serif" font-weight="bold" font-size="17.3" textLength="14.2" lengthAdjust="spacingAndGlyphs" stroke="#000" stroke-width="0.5" stroke-linejoin="round" >11</text>
<text x="340.0" y="21.8" font-family="Liberation Serif, serif" font-weight="bold" font-size="19.8" textLength="37.4" lengthAdjust="spacingAndGlyphs" stroke="#000" stroke-width="0.5" stroke-linejoin="round" >GeV</text>
<text x="377.2" y="21.8" font-family="Liberation Serif, serif" font-weight="bold" font-size="19.8" stroke="#000" stroke-width="0.5" stroke-linejoin="round" >,</text>
<text x="384.3" y="21.8" font-family="Liberation Serif, serif" font-weight="bold" font-size="19.8" textLength="11.4" lengthAdjust="spacingAndGlyphs" stroke="#000" stroke-width="0.5" stroke-linejoin="round" font-style="italic">μ</text>
<text x="399.6" y="21.8" font-family="Liberation Serif, serif" font-weight="bold" font-size="19.8" textLength="11.3" lengthAdjust="spacingAndGlyphs" stroke="#000" stroke-width="0.5" stroke-linejoin="round" >&gt;</text>
<text x="415.8" y="21.8" font-family="Liberation Serif, serif" font-weight="bold" font-size="19.8" textLength="10" lengthAdjust="spacingAndGlyphs" stroke="#000" stroke-width="0.5" stroke-linejoin="round" >0</text>
<g transform="translate(21.9,176.3) rotate(-90)">
<text x="0" y="0" font-family="Liberation Serif, serif" font-weight="bold" font-size="22" textLength="18.3" lengthAdjust="spacingAndGlyphs" stroke="#000" stroke-width="0.25" stroke-linejoin="round" >m</text>
<text x="18.3" y="5.6" font-family="Liberation Serif, serif" font-weight="bold" font-size="17" textLength="8.2" lengthAdjust="spacingAndGlyphs" stroke="#000" stroke-width="0.5" stroke-linejoin="round" >0</text>
<text x="31" y="0" font-family="Liberation Serif, serif" font-weight="bold" font-size="22" textLength="57.5" lengthAdjust="spacingAndGlyphs" stroke="#000" stroke-width="0.25" stroke-linejoin="round" >(GeV)</text>
</g>
<text x="214.4" y="430.7" font-family="Liberation Serif, serif" font-weight="bold" font-size="21.8" textLength="18.5" lengthAdjust="spacingAndGlyphs" stroke="#000" stroke-width="0.25" stroke-linejoin="round" >m</text>
<text x="232.6" y="437" font-family="Liberation Serif, serif" font-weight="bold" font-size="17.6" textLength="21.6" lengthAdjust="spacingAndGlyphs" stroke="#000" stroke-width="0.5" stroke-linejoin="round" >1/2</text>
<text x="259.5" y="430.7" font-family="Liberation Serif, serif" font-weight="bold" font-size="21.8" textLength="54.5" lengthAdjust="spacingAndGlyphs" stroke="#000" stroke-width="0.25" stroke-linejoin="round" >(GeV)</text>
<text x="330.1" y="110" font-family="Liberation Serif, serif" font-weight="bold" font-size="12" textLength="17.2" lengthAdjust="spacingAndGlyphs" stroke="#000" stroke-width="0.2" stroke-linejoin="round" >tan</text>
<text x="351.8" y="110" font-family="Liberation Serif, serif" font-size="12.5" textLength="6.2" lengthAdjust="spacingAndGlyphs">β</text>
<text x="362.3" y="110" font-family="Liberation Serif, serif" font-weight="bold" font-size="12" textLength="7.1" lengthAdjust="spacingAndGlyphs" stroke="#000" stroke-width="0.2" stroke-linejoin="round" >=</text>
<text x="372.5" y="110" font-family="Liberation Serif, serif" font-weight="bold" font-size="12" textLength="12.3" lengthAdjust="spacingAndGlyphs" stroke="#000" stroke-width="0.2" stroke-linejoin="round" >40</text>
<text x="83" y="310.8" font-family="Liberation Serif, serif" font-weight="bold" font-size="12" textLength="17.2" lengthAdjust="spacingAndGlyphs" stroke="#000" stroke-width="0.2" stroke-linejoin="round" >tan</text>
<text x="104.7" y="310.8" font-family="Liberation Serif, serif" font-size="12.5" textLength="6.2" lengthAdjust="spacingAndGlyphs">β</text>
<text x="115.2" y="310.8" font-family="Liberation Serif, serif" font-weight="bold" font-size="12" textLength="7.1" lengthAdjust="spacingAndGlyphs" stroke="#000" stroke-width="0.2" stroke-linejoin="round" >=</text>
<text x="125.4" y="310.8" font-family="Liberation Serif, serif" font-weight="bold" font-size="12" textLength="12.3" lengthAdjust="spacingAndGlyphs" stroke="#000" stroke-width="0.2" stroke-linejoin="round" >25</text>
<text x="267.6" y="176.4" font-family="Liberation Serif, serif" font-weight="bold" font-size="12.8" textLength="19.5" lengthAdjust="spacingAndGlyphs" stroke="#FF0000" stroke-width="0.2" stroke-linejoin="round" fill="#FF0000">130</text>
<text x="79.0" y="353.5" font-family="Liberation Serif, serif" font-weight="bold" font-size="12.4" textLength="18.0" lengthAdjust="spacingAndGlyphs" stroke="#FF0000" stroke-width="0.2" stroke-linejoin="round" fill="#FF0000">122</text>
</svg>
</body></html>
